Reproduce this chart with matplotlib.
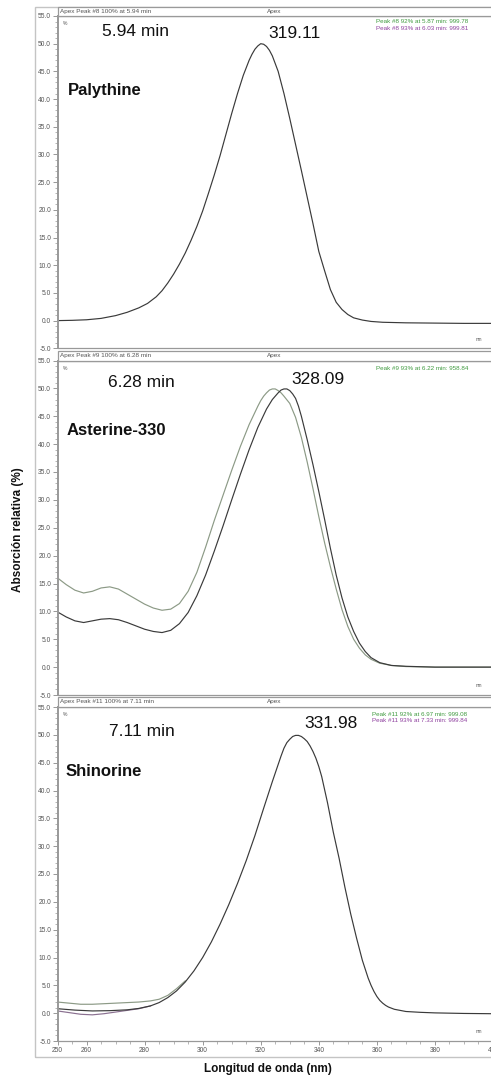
import matplotlib
matplotlib.use("Agg")
import matplotlib.pyplot as plt
from matplotlib.patches import Rectangle
from matplotlib.ticker import MultipleLocator, FixedLocator

plt.rcParams['font.family'] = ['Liberation Sans', 'DejaVu Sans']
plt.rcParams['axes.unicode_minus'] = False

# ---------------- data ----------------
# Panel 1: Palythine
pal_wl = [250, 255, 260, 265, 270, 274, 278, 281, 284, 286, 288, 290, 292, 294, 296, 298,
          300, 302, 304, 306, 308, 310, 312, 314, 316, 317, 318, 319, 320, 321, 322, 323,
          324, 326, 328, 330, 332, 334, 336, 338, 340, 342, 344, 346, 348, 350, 352, 355,
          358, 362, 370, 380, 390, 400]
pal_main = [0.0, 0.05, 0.15, 0.4, 0.9, 1.5, 2.3, 3.1, 4.3, 5.4, 6.8, 8.4, 10.2, 12.2, 14.5, 17.0,
            19.8, 23.0, 26.3, 29.8, 33.6, 37.4, 41.0, 44.3, 47.0, 48.1, 49.0, 49.6, 50.0, 49.9, 49.5, 48.8,
            47.8, 45.0, 41.0, 36.5, 31.8, 27.1, 22.3, 17.5, 12.5, 9.0, 5.6, 3.3, 2.0, 1.1, 0.5, 0.1,
            -0.15, -0.3, -0.4, -0.45, -0.5, -0.5]

# Panel 2: Asterine-330
ast_wl_main = [250, 253, 256, 259, 262, 265, 268, 271, 274, 277, 280, 283, 286, 289, 292, 295,
               298, 301, 304, 307, 310, 313, 316, 319, 322, 324, 326, 327, 328, 329, 330, 331,
               332, 333, 334, 336, 338, 340, 342, 344, 346, 348, 350, 352, 354, 356, 358, 361,
               365, 370, 380, 400]
ast_main = [9.9, 9.0, 8.3, 8.0, 8.3, 8.6, 8.7, 8.5, 8.0, 7.4, 6.8, 6.4, 6.2, 6.6, 7.8, 9.8,
            12.8, 16.5, 20.8, 25.3, 30.0, 34.6, 39.0, 43.0, 46.3, 48.0, 49.2, 49.7, 49.9, 49.9, 49.6, 49.0,
            48.2, 46.8, 45.0, 40.8, 36.3, 31.5, 26.5, 21.3, 16.5, 12.4, 9.0, 6.4, 4.3, 2.8, 1.7, 0.8,
            0.3, 0.15, 0.0, 0.0]
ast_wl_green = [250, 253, 256, 259, 262, 265, 268, 271, 274, 277, 280, 283, 286, 289, 292, 295,
                298, 301, 304, 307, 310, 313, 316, 319, 320, 321, 322, 323, 324, 325, 326, 327,
                328, 330, 332, 334, 336, 338, 340, 342, 344, 346, 348, 350, 352, 354, 356, 358,
                361, 365, 370, 380, 400]
ast_green = [16.0, 14.8, 13.8, 13.3, 13.6, 14.2, 14.4, 14.0, 13.1, 12.2, 11.3, 10.6, 10.2, 10.4, 11.4, 13.6,
             17.0, 21.5, 26.3, 30.8, 35.3, 39.6, 43.5, 46.8, 47.8, 48.6, 49.2, 49.7, 49.9, 49.9, 49.6, 49.2,
             48.6, 47.3, 44.8, 41.2, 36.8, 32.0, 27.0, 22.3, 18.0, 14.0, 10.3, 7.3, 5.0, 3.4, 2.2, 1.4,
             0.7, 0.3, 0.1, 0.0, 0.0]

# Panel 3: Shinorine
shi_wl_main = [250, 256, 262, 268, 274, 278, 282, 285, 288, 291, 294, 297, 300, 303, 306, 309,
               312, 315, 318, 321, 324, 327, 328, 329, 330, 331, 332, 333, 334, 335, 336, 337,
               338, 339, 340, 341, 343, 345, 347, 349, 351, 353, 355, 357, 358, 359, 360, 361,
               362, 363, 364, 366, 370, 375, 380, 390, 400]
shi_main = [0.8, 0.55, 0.4, 0.45, 0.6, 0.85, 1.3, 1.9, 2.8, 4.0, 5.6, 7.6, 10.0, 12.8, 16.0, 19.5,
            23.3, 27.4, 31.9, 36.8, 41.6, 46.2, 47.6, 48.6, 49.2, 49.7, 49.9, 49.9, 49.7, 49.3, 48.8, 48.0,
            47.0, 45.8, 44.3, 42.5, 37.8, 32.5, 27.8, 22.6, 17.8, 13.5, 9.5, 6.3, 5.0, 3.9, 3.0, 2.3,
            1.8, 1.4, 1.1, 0.7, 0.3, 0.15, 0.05, -0.05, -0.1]
shi_wl_green = [250, 254, 258, 262, 266, 270, 274, 278, 282, 285, 288, 291, 294]
shi_green = [2.0, 1.8, 1.6, 1.6, 1.7, 1.8, 1.9, 2.0, 2.2, 2.5, 3.2, 4.4, 5.8]
shi_wl_purple = [250, 254, 258, 262, 266, 270, 274, 278, 282]
shi_purple = [0.4, 0.1, -0.2, -0.3, -0.1, 0.2, 0.5, 0.8, 1.3]

y_ticks = [-5, 0, 5, 10, 15, 20, 25, 30, 35, 40, 45, 50, 55]
x_ticks = [250, 260, 280, 300, 320, 340, 360, 380, 400]

names = ["Palythine", "Asterine-330", "Shinorine"]
times = ["5.94 min", "6.28 min", "7.11 min"]
peaks = ["319.11", "328.09", "331.98"]
headers = ["Apex Peak #8 100% at 5.94 min", "Apex Peak #9 100% at 6.28 min",
           "Apex Peak #11 100% at 7.11 min"]
legend_green = ["Peak #8 92% at 5.87 min: 999.78", "Peak #9 93% at 6.22 min: 958.84",
                "Peak #11 92% at 6.97 min: 999.08"]
legend_purple = ["Peak #8 93% at 6.03 min: 999.81", None, "Peak #11 93% at 7.33 min: 999.84"]

# ---------------- layout ----------------
W, H = 491, 1078
fig = plt.figure(figsize=(W / 100, H / 100), dpi=100)
fig.patch.set_facecolor('white')


def fx(p):
    return p / W


def fy(p):
    return 1 - p / H


# outer frame
fig.add_artist(Rectangle((fx(35), fy(1057)), (W + 5 - 35) / W, (1057 - 7) / H,
                         transform=fig.transFigure, fill=False, edgecolor='#c4c4c4', lw=1.0))

panels = [  # header top, header bottom(=plot top), plot bottom
    (7, 16, 348.3),
    (351, 360.5, 695),
    (697, 707, 1041),
]
AX_L, AX_R = 57.5, 493

main_col = '#3a3a3a'
green_col = '#8c9a86'
purple_col = '#8a7090'

series = [
    [(pal_wl, pal_main, main_col)],
    [(ast_wl_green, ast_green, green_col), (ast_wl_main, ast_main, main_col)],
    [(shi_wl_green, shi_green, green_col), (shi_wl_purple, shi_purple, purple_col),
     (shi_wl_main, shi_main, main_col)],
]

for i, (ht, top, bot) in enumerate(panels):
    # header strip
    fig.add_artist(Rectangle((fx(AX_L), fy(top)), (AX_R - AX_L) / W, (top - ht) / H,
                             transform=fig.transFigure, facecolor='white',
                             edgecolor='#9a9a9a', lw=0.9))
    fig.text(fx(60), fy((ht + top) / 2), headers[i], fontsize=4.6, color='#555',
             ha='left', va='center')
    fig.text(fx(267), fy((ht + top) / 2), "Apex", fontsize=4.6, color='#555',
             ha='left', va='center')

    ax = fig.add_axes([fx(AX_L), fy(bot), (AX_R - AX_L) / W, (bot - top) / H])
    for wl, vals, col in series[i]:
        ax.plot(wl, vals, color=col, lw=0.85, solid_joinstyle='round')
    ax.set_xlim(250, 400)
    ax.set_ylim(-5, 55)
    ax.yaxis.set_major_locator(FixedLocator(y_ticks))
    ax.set_yticklabels([f"{v:.1f}" for v in y_ticks])
    ax.yaxis.set_minor_locator(MultipleLocator(1))
    ax.tick_params(axis='y', which='major', length=3.5, width=0.6, color='#888',
                   labelsize=4.8, labelcolor='#555', pad=1.2)
    ax.tick_params(axis='y', which='minor', length=2, width=0.5, color='#999')
    for s in ['left', 'top', 'bottom']:
        ax.spines[s].set_color('#999')
    ax.spines['left'].set_linewidth(1.4)
    ax.spines['top'].set_linewidth(0.9)
    ax.spines['bottom'].set_linewidth(0.9)
    ax.spines['right'].set_visible(False)
    if i == 2:
        ax.xaxis.set_major_locator(FixedLocator(x_ticks))
        ax.set_xticklabels([str(v) for v in x_ticks])
        ax.xaxis.set_minor_locator(MultipleLocator(5))
        ax.tick_params(axis='x', which='major', length=3, width=0.6, color='#888',
                       labelsize=4.8, labelcolor='#555', pad=1.5)
        ax.tick_params(axis='x', which='minor', length=2, width=0.5, color='#999')
    else:
        ax.set_xticks([])
        ax.tick_params(axis='x', which='both', bottom=False, labelbottom=False)

    # small axis unit marks
    ax.text(0.012, 0.985, "%", transform=ax.transAxes, fontsize=3.6, color='#555',
            ha='left', va='top')
    ax.text(0.975, 0.02, "nm", transform=ax.transAxes, fontsize=3.3, color='#555',
            ha='right', va='bottom')

# panel annotations (pixel positions)
time_pos = [(135, 31.5), (141, 383), (142, 731)]
peak_pos = [(294, 33.3), (318, 379), (331, 723)]
name_pos = [(68, 90), (66.5, 430.5), (66, 771.5)]
legend_pos = [(376, 21.7), (376, 368), (372, 714)]

for i in range(3):
    fig.text(fx(time_pos[i][0]), fy(time_pos[i][1]), times[i], fontsize=12.5,
             ha='center', va='center', color='#111')
    fig.text(fx(peak_pos[i][0]), fy(peak_pos[i][1]), peaks[i], fontsize=12.5,
             ha='center', va='center', color='#111')
    fig.text(fx(name_pos[i][0]), fy(name_pos[i][1]), names[i], fontsize=12,
             fontweight='bold', ha='left', va='center', color='#111')
    fig.text(fx(legend_pos[i][0]), fy(legend_pos[i][1]), legend_green[i], fontsize=4.5,
             color='#3f9a3f', ha='left', va='center')
    if legend_purple[i]:
        fig.text(fx(legend_pos[i][0]), fy(legend_pos[i][1] + 6.6), legend_purple[i],
                 fontsize=4.5, color='#8e3f9e', ha='left', va='center')

fig.text(fx(18), fy(530), "Absorción relativa (%)", rotation=90, fontsize=8.5,
         fontweight='bold', ha='center', va='center', color='#111')
fig.text(fx(268), fy(1069), "Longitud de onda (nm)", fontsize=8.5,
         fontweight='bold', ha='center', va='center', color='#111')

fig.savefig("out.png", dpi=100, facecolor='white')
